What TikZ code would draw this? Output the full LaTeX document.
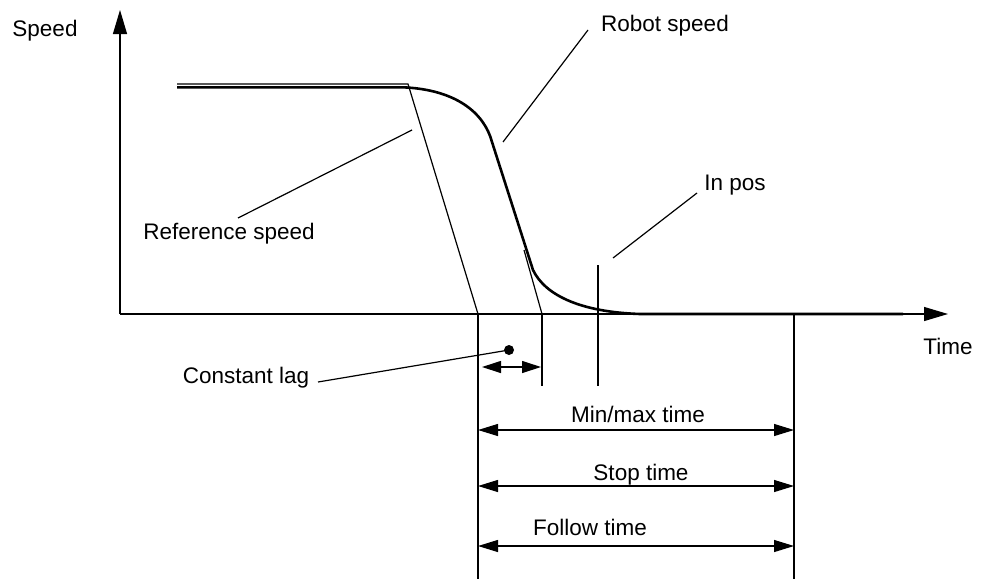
\documentclass[tikz,border=0pt]{standalone}
\usepackage{fontspec}
\setmainfont{Liberation Sans}
\usetikzlibrary{arrows.meta}
\begin{document}
\begin{tikzpicture}[x=1pt,y=-1pt,
  fine/.style={line width=1.2pt, line cap=butt},
  heavy/.style={line width=2.6pt, line join=round},
  lbl/.style={inner sep=0pt, anchor=base, font=\fontsize{22.5}{27}\selectfont},
  axisarrow/.style={fine, -{Triangle[length=24pt,width=14pt]}},
  dimarrow/.style={fine, {Triangle[length=20pt,width=12pt]}-{Triangle[length=20pt,width=12pt]}},
  dotmark/.style={circle, fill=black, inner sep=0pt, minimum size=10pt}]
\useasboundingbox (0,0) rectangle (981,579);

% axes
\coordinate (origin) at (120,314);
\coordinate (ytip) at (120,10);
\coordinate (xtip) at (948,314);
\draw[axisarrow] (origin) -- (ytip);
\draw[axisarrow] (origin) -- (xtip);

% reference speed
\coordinate (refstart) at (177,84);
\coordinate (refknee) at (408,84);
\coordinate (refend) at (478,314);
\draw[fine] (refstart) -- (refknee) -- (refend);

% robot speed
\coordinate (robstart) at (177,87.4);
\coordinate (robknee) at (405,87.4);
\coordinate (robsteep) at (492,142);
\coordinate (robfoot) at (533,270);
\coordinate (robflat) at (640,314);
\coordinate (robend) at (903,314);
\draw[heavy] (robstart) -- (robknee) .. controls (455,90) and (484,112) .. (robsteep)
  -- (robfoot) .. controls (545,295) and (580,312) .. (robflat) -- (robend);

% extension of steep part
\coordinate (extA) at (524,250);
\coordinate (extB) at (542,314);
\draw[fine] (extA) -- (extB);

% vertical marker lines
\coordinate (v1top) at (478,314);
\coordinate (v1bot) at (478,579);
\coordinate (v2top) at (542,314);
\coordinate (v2bot) at (542,386);
\coordinate (v3top) at (598,265);
\coordinate (v3bot) at (598,386);
\coordinate (v4top) at (794,314);
\coordinate (v4bot) at (794,579);
\draw[fine] (v1top) -- (v1bot);
\draw[fine] (v2top) -- (v2bot);
\draw[fine] (v3top) -- (v3bot);
\draw[fine] (v4top) -- (v4bot);

% labels
\node[lbl] (speedlbl) at (45,36) {Speed};
\node[lbl] (timelbl) at (948,354) {Time};
\node[lbl] (robotlbl) at (665,31) {Robot speed};
\node[lbl] (reflbl) at (229,239) {Reference speed};
\node[lbl] (inposlbl) at (735,190) {In pos};
\node[lbl] (laglbl) at (246,383) {Constant lag};
\node[lbl] (minmaxlbl) at (638,422) {Min/max time};
\node[lbl] (stoplbl) at (641,480) {Stop time};
\node[lbl] (followlbl) at (590,535) {Follow time};

% leaders
\coordinate (robotleadA) at (588,30);
\coordinate (robotleadB) at (503,142);
\draw[fine] (robotleadA) -- (robotleadB);
\coordinate (refleadA) at (238,218);
\coordinate (refleadB) at (412,130);
\draw[fine] (refleadA) -- (refleadB);
\coordinate (inposleadA) at (697,193);
\coordinate (inposleadB) at (613,258);
\draw[fine] (inposleadA) -- (inposleadB);
\node[dotmark] (lagdot) at (509,350) {};
\coordinate (lagleadA) at (318,382);
\draw[fine] (lagleadA) -- (lagdot.center);

% constant lag double arrow
\coordinate (lagL) at (482,367);
\coordinate (lagR) at (541,367);
\draw[fine, {Triangle[length=19pt,width=12pt]}-{Triangle[length=19pt,width=12pt]}] (lagL) -- (lagR);

% dimension arrows
\coordinate (mmL) at (478,430);
\coordinate (mmR) at (794,430);
\draw[dimarrow] (mmL) -- (mmR);
\coordinate (stL) at (478,486);
\coordinate (stR) at (794,486);
\draw[dimarrow] (stL) -- (stR);
\coordinate (foL) at (478,546);
\coordinate (foR) at (794,546);
\draw[dimarrow] (foL) -- (foR);
\end{tikzpicture}
\end{document}
